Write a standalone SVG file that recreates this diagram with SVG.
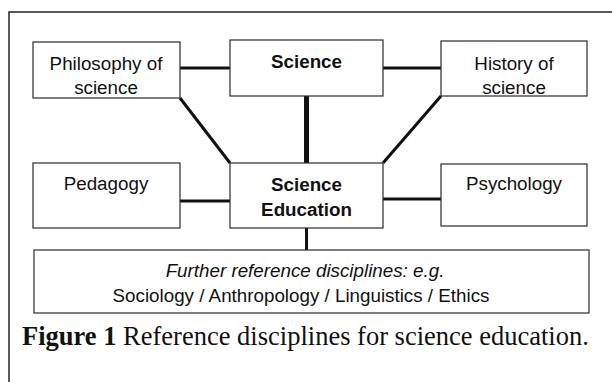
<svg xmlns="http://www.w3.org/2000/svg" width="612" height="382" viewBox="0 0 612 382">
  <style>
    .box { fill: #ffffff; stroke: #2a2a2a; stroke-width: 1.2; }
    .lbl { font-family: "Liberation Sans", Arial, sans-serif; font-size: 18.8px; fill: #111; text-anchor: middle; }
    .bold { font-weight: bold; }
    .ital { font-style: italic; }
    .link { stroke: #111; stroke-width: 3; fill: none; stroke-linecap: butt; }
    .main { stroke-width: 5; }
    .cap { font-family: "Liberation Serif", "Times New Roman", serif; font-size: 26.5px; fill: #111; }
  </style>
  <rect width="612" height="382" fill="#ffffff"/>
  <!-- outer frame, open on the right and bottom -->
  <path d="M9,382 V12 H612" fill="none" stroke="#222" stroke-width="1.5"/>

  <g id="connectors">
    <line class="link" x1="180" y1="68" x2="230" y2="68"/>
    <line class="link" x1="383" y1="68" x2="441" y2="68"/>
    <line class="link main" x1="306.5" y1="96" x2="306.5" y2="163"/>
    <line class="link" x1="180" y1="98" x2="230" y2="163"/>
    <line class="link" x1="441" y1="96" x2="383" y2="163"/>
    <line class="link" x1="180" y1="201" x2="230" y2="201"/>
    <line class="link" x1="383" y1="199" x2="441" y2="199"/>
    <line class="link" x1="306.5" y1="228" x2="306.5" y2="250"/>
  </g>

  <g id="philosophy">
    <rect class="box" x="33" y="42" width="147" height="56"/>
    <text class="lbl" x="106" y="70">Philosophy of</text>
    <text class="lbl" x="106" y="94">science</text>
  </g>
  <g id="science">
    <rect class="box" x="230" y="40" width="153" height="56"/>
    <text class="lbl bold" x="306.5" y="68">Science</text>
  </g>
  <g id="history">
    <rect class="box" x="441" y="41" width="146" height="55"/>
    <text class="lbl" x="514" y="70">History of</text>
    <text class="lbl" x="514" y="94">science</text>
  </g>
  <g id="pedagogy">
    <rect class="box" x="33" y="163" width="147" height="65"/>
    <text class="lbl" x="106" y="190">Pedagogy</text>
  </g>
  <g id="science-education">
    <rect class="box" x="230" y="163" width="153" height="65"/>
    <text class="lbl bold" x="306.5" y="191">Science</text>
    <text class="lbl bold" x="306.5" y="216">Education</text>
  </g>
  <g id="psychology">
    <rect class="box" x="441" y="164" width="146" height="62"/>
    <text class="lbl" x="514" y="190">Psychology</text>
  </g>
  <g id="further">
    <rect class="box" x="34" y="250" width="555" height="63"/>
    <text class="lbl ital" x="305" y="277">Further reference disciplines: e.g.</text>
    <text class="lbl" x="301" y="302">Sociology / Anthropology / Linguistics / Ethics</text>
  </g>

  <text class="cap" x="22" y="345"><tspan font-weight="bold">Figure 1</tspan>  Reference disciplines for science education.</text>
</svg>
